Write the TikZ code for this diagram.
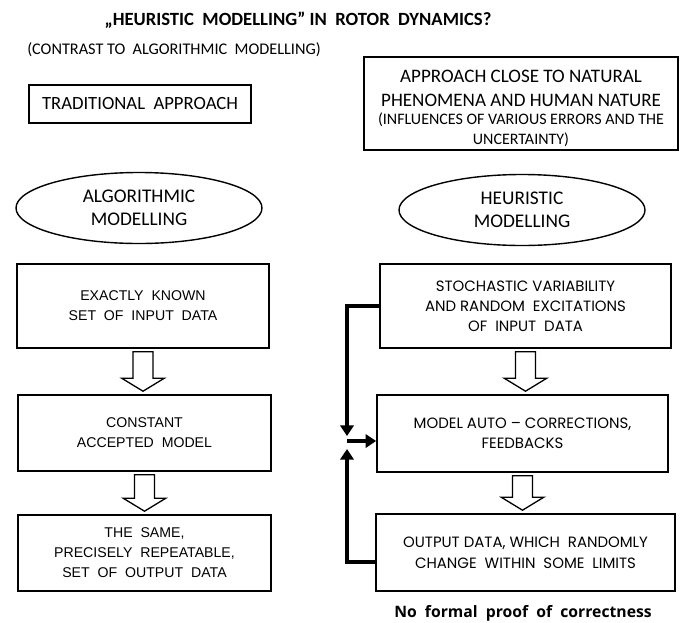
\documentclass[tikz,border=0pt]{standalone}
\usepackage{fontspec}
\setmainfont{Carlito}
\newfontfamily\arialf{Liberation Sans}
\newfontfamily\popf{Poppins}
\newfontfamily\opensf{Open Sans}
\usetikzlibrary{shapes.geometric,arrows.meta,calc}
\newlength\pxu \setlength\pxu{0.75pt}
\newcommand\biglf{\fontsize{14.3pt}{17.5pt}\selectfont}
\newcommand\smallf{\fontsize{12pt}{15pt}\selectfont}
\tikzset{
  box/.style={draw, line width=1.6\pxu, inner sep=0pt, align=center},
  oval/.style={draw, ellipse, line width=1.4\pxu, inner sep=0pt, align=center,
    font=\fontsize{14.5pt}{17.25pt}\selectfont},
  lbox/.style={box, font=\arialf\fontsize{10.6pt}{15pt}\selectfont},
  rbox/.style={box, font=\popf\fontsize{11.2pt}{15pt}\selectfont},
  hollow/.style={draw, line width=1.3\pxu, fill=white, line join=miter},
  fb/.style={line width=3.2\pxu, -{Triangle[length=8pt,width=10pt]}},
}
\newcommand\blkarrow[2]{%
  \draw[hollow] let \p1=(#1.south), \p2=(#2.north) in
    (\x1-7.5pt,\y1-2.25pt) -- (\x1+7.5pt,\y1-2.25pt) -- (\x1+7.5pt,\y2+12pt)
    -- (\x1+16pt,\y2+12pt) -- (\x1,\y2+2.25pt) -- (\x1-16pt,\y2+12pt)
    -- (\x1-7.5pt,\y2+12pt) -- cycle;}
\begin{document}
\begin{tikzpicture}[x=0.75pt,y=-0.75pt]
\useasboundingbox (0,0) rectangle (682,622);

\node[font=\bfseries\fontsize{14pt}{16pt}\selectfont] (title) at (298,20)
  {„HEURISTIC\ \ MODELLING” IN\ \ ROTOR\ \ DYNAMICS?};
\node[anchor=west, inner sep=0pt, font=\fontsize{12.2pt}{14pt}\selectfont] (contrast) at (27,50)
  {(CONTRAST TO\ \ ALGORITHMIC\ \ MODELLING)};

\node[box, minimum width=222\pxu, minimum height=38\pxu,
  font=\fontsize{14pt}{16pt}\selectfont] (trad) at (140,104) {TRADITIONAL\ \ APPROACH};

\node[box, minimum width=314\pxu, minimum height=93\pxu] (appr) at (521,103.5) {};
\node[inner sep=0pt, align=center, font=\biglf] (apprtext) at ($(appr.center)+(0,5)$)
  {\biglf APPROACH CLOSE TO NATURAL\\
   \biglf PHENOMENA AND HUMAN NATURE\\[-4pt]
   \smallf (INFLUENCES OF VARIOUS ERRORS AND THE\\[-2.5pt]
   \smallf UNCERTAINTY)};

\node[oval, minimum width=246\pxu, minimum height=71\pxu] (alg) at (139,208)
  {ALGORITHMIC\\MODELLING};
\node[oval, minimum width=246\pxu, minimum height=71\pxu] (heu) at (522,210)
  {HEURISTIC\\MODELLING};

\node[lbox, minimum width=252\pxu, minimum height=84\pxu] (l1) at (143,306)
  {EXACTLY\ \ KNOWN\\SET\ \ OF\ \ INPUT\ \ DATA};
\node[lbox, minimum width=253\pxu, minimum height=76\pxu] (l2) at (144.5,433)
  {CONSTANT\\ACCEPTED\ \ MODEL};
\node[lbox, minimum width=253\pxu, minimum height=76\pxu] (l3) at (144.5,553)
  {THE\ \ SAME,\\PRECISELY\ \ REPEATABLE,\\SET\ \ OF\ \ OUTPUT\ \ DATA};

\node[rbox, minimum width=291\pxu, minimum height=84\pxu] (r1) at (525.5,306)
  {STOCHASTIC VARIABILITY\\AND RANDOM\ \ EXCITATIONS\\OF\ \ INPUT\ \ DATA};
\node[rbox, minimum width=291\pxu, minimum height=77\pxu] (r2) at (522.5,433.5)
  {MODEL AUTO – CORRECTIONS,\\FEEDBACKS};
\node[rbox, minimum width=299\pxu, minimum height=77\pxu, font=\popf\fontsize{11.2pt}{16pt}\selectfont] (r3) at (525.5,552.5)
  {OUTPUT DATA, WHICH\ \ RANDOMLY\\CHANGE\ \ WITHIN\ \ SOME\ \ LIMITS};

\node[font=\opensf\bfseries\fontsize{11.8pt}{14pt}\selectfont] (proof) at (523,613)
  {No\ \ formal\ \ proof\ \ of\ \ correctness};

\blkarrow{l1}{l2}
\blkarrow{l2}{l3}
\blkarrow{r1}{r2}
\blkarrow{r2}{r3}

\coordinate (j) at (347,441);
\coordinate (jt) at (347,436);
\coordinate (jb) at (347,449);
\draw[fb] (r1.west) -| (jt);
\draw[fb] ($(r3.west)+(0,9.5)$) -| (jb);
\draw[fb] (j) -- (r2.west |- j);
\end{tikzpicture}
\end{document}
